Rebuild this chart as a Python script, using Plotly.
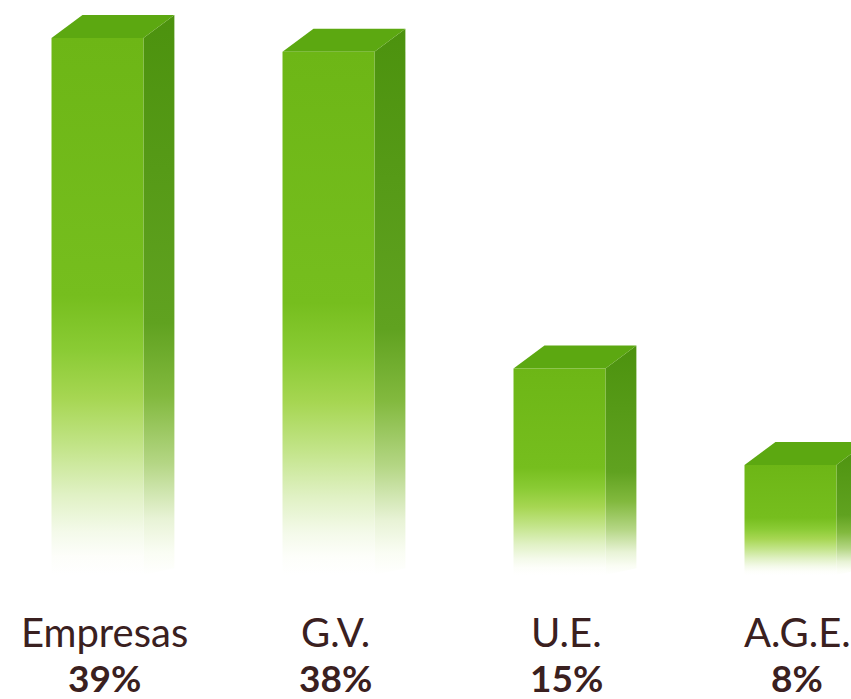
import plotly.graph_objects as go

categories = ["Empresas", "G.V.", "U.E.", "A.G.E."]
values = [39, 38, 15, 8]
pct_labels = ["39%", "38%", "15%", "8%"]

HALF_W = 0.199
DX = 0.134
DY = 1.67

front_scale = [[0, "rgba(255,255,255,1)"], [0.035, "#fdfefa"], [0.08, "#f4faea"],
               [0.15, "#e0f1c4"], [0.24, "#c2e488"], [0.33, "#a6d652"],
               [0.42, "#8acb34"], [0.52, "#76be1e"], [1, "#6db616"]]
side_scale = [[0, "rgba(255,255,255,1)"], [0.04, "#fafdf4"], [0.1, "#e8f3d6"],
              [0.2, "#b4d684"], [0.32, "#82b93e"], [0.45, "#60a220"], [1, "#4c920e"]]
top_color = "#5ca811"
text_color = "#3a2020"

fig = go.Figure()
for i, v in enumerate(values):
    xl, xr = i - HALF_W, i + HALF_W
    # side face
    fig.add_trace(go.Scatter(
        x=[xr, xr + DX, xr + DX, xr, xr], y=[0, DY * 0.3, v + DY, v, 0],
        mode="lines", fill="toself", line=dict(width=0),
        fillgradient=dict(type="vertical", colorscale=side_scale, start=0, stop=v + DY),
        hoverinfo="skip", showlegend=False))
    # top face
    fig.add_trace(go.Scatter(
        x=[xl, xr, xr + DX, xl + DX, xl], y=[v, v, v + DY, v + DY, v],
        mode="lines", fill="toself", line=dict(width=0), fillcolor=top_color,
        hoverinfo="skip", showlegend=False))
    # front face
    fig.add_trace(go.Scatter(
        x=[xl, xr, xr, xl, xl], y=[0, 0, v, v, 0],
        mode="lines", fill="toself", line=dict(width=0),
        fillgradient=dict(type="vertical", colorscale=front_scale, start=0, stop=v),
        hoverinfo="skip", showlegend=False))

for i, (c, p) in enumerate(zip(categories, pct_labels)):
    fig.add_annotation(x=i + 0.03, y=-4.15, text=c, showarrow=False,
                       font=dict(family="Lato", size=40, color=text_color),
                       xanchor="center", yanchor="middle")
    fig.add_annotation(x=i + 0.03, y=-7.45, text=f"<b>{p}</b>", showarrow=False,
                       font=dict(family="Lato", size=37, color=text_color),
                       xanchor="center", yanchor="middle")

fig.update_layout(
    width=851, height=699,
    margin=dict(l=0, r=0, t=0, b=0),
    paper_bgcolor="white", plot_bgcolor="white",
    xaxis=dict(range=[-0.422, 3.262], visible=False, fixedrange=True),
    yaxis=dict(range=[-9.0, 41.76], visible=False, fixedrange=True),
    showlegend=False,
)

fig.write_html("out.html")
